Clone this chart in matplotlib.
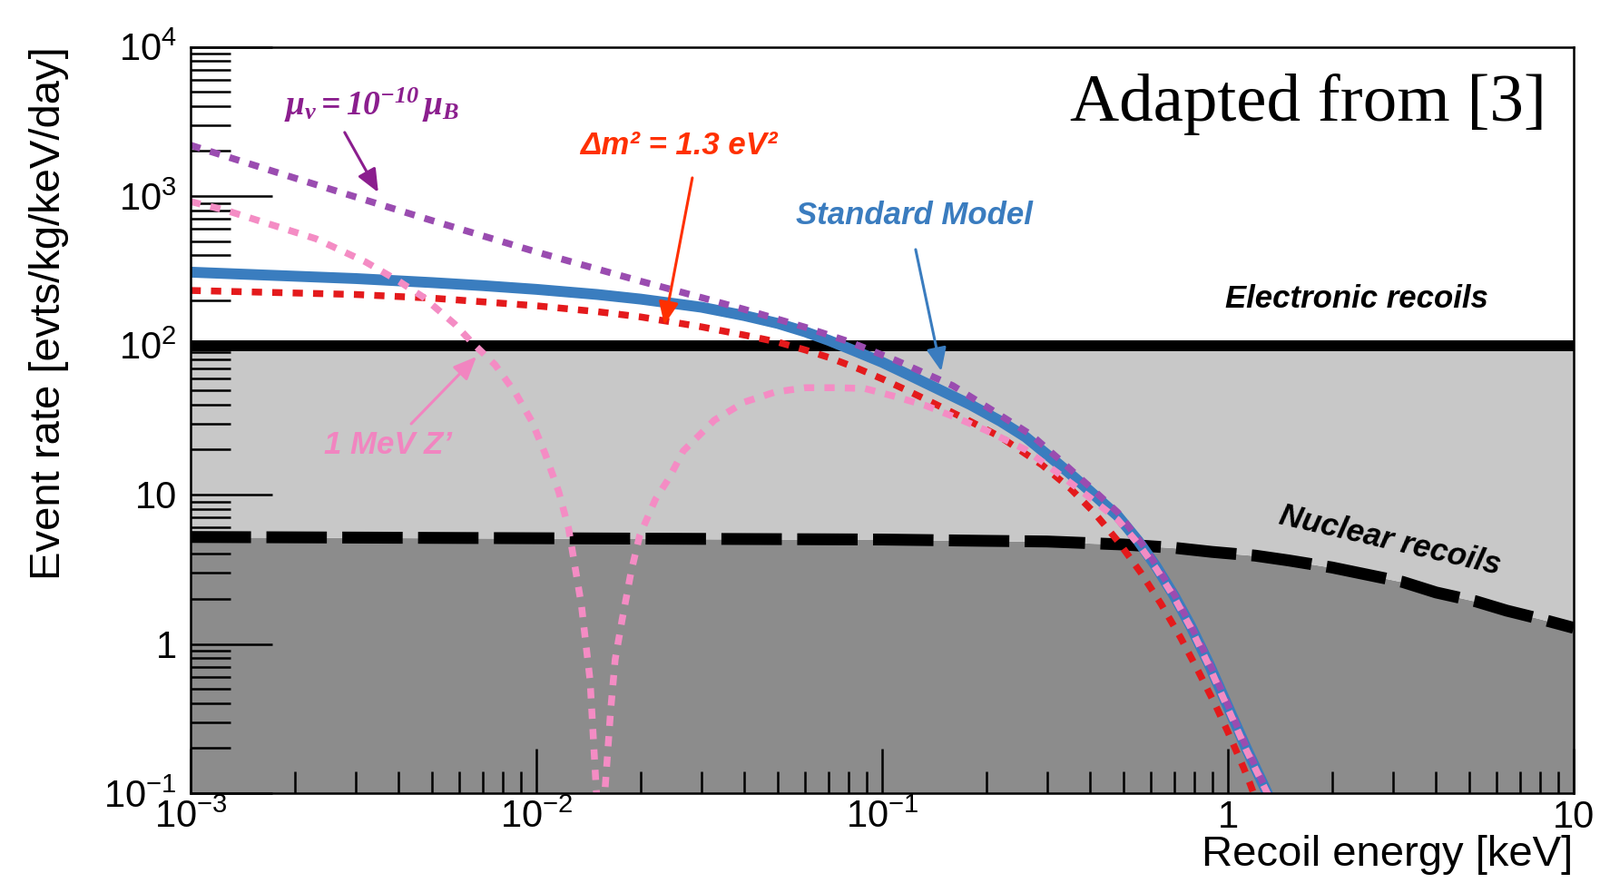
import matplotlib
matplotlib.use('Agg')
import matplotlib.pyplot as plt
from matplotlib.ticker import FixedLocator, FixedFormatter, NullFormatter

plt.rcParams['font.family'] = ['Liberation Sans', 'DejaVu Sans']
plt.rcParams['mathtext.fontset'] = 'custom'
plt.rcParams['mathtext.rm'] = 'Liberation Serif:italic:bold'
plt.rcParams['mathtext.it'] = 'Liberation Serif:italic:bold'
plt.rcParams['mathtext.bf'] = 'Liberation Serif:italic:bold'

# recoil energy [keV] / event rate [evts/kg/keV/day]
sm_energy = [0.001, 0.003, 0.005, 0.007, 0.01, 0.015, 0.02, 0.03, 0.04, 0.05, 0.06, 0.07,
             0.085, 0.1, 0.12, 0.14, 0.18, 0.22, 0.26, 0.32, 0.36, 0.4, 0.44, 0.48, 0.55,
             0.62, 0.7, 0.78, 0.88, 1.0, 1.13, 1.3, 1.35]
sm_rate = [309, 280, 263, 251, 237, 219, 204, 180, 158, 140, 123, 108,
           90, 77, 63, 53, 40, 31, 24.3, 16.4, 13.0, 10.5, 8.6, 7.2, 4.9,
           3.3, 2.09, 1.32, 0.74, 0.38, 0.20, 0.1, 0.075]

mu_energy = [0.001, 0.002, 0.003, 0.005, 0.01, 0.02, 0.03, 0.04, 0.06, 0.08, 0.11, 0.16,
             0.22, 0.27, 0.32, 0.4, 0.48, 0.58, 0.7, 0.85, 1.0, 1.13, 1.3, 1.35]
mu_rate = [2190, 1320, 986, 684, 422, 269, 209, 174, 132, 106, 79, 53.7,
           33.9, 25.1, 17.8, 11.2, 7.6, 4.3, 2.14, 0.91, 0.39, 0.204, 0.102, 0.078]

dm_energy = [0.001, 0.003, 0.005, 0.01, 0.015, 0.02, 0.03, 0.04, 0.05, 0.06, 0.07, 0.085,
             0.1, 0.12, 0.14, 0.18, 0.22, 0.29, 0.35, 0.41, 0.48, 0.56, 0.64, 0.73, 0.82,
             0.92, 1.0, 1.11, 1.16, 1.2]
dm_rate = [233, 219, 207, 184, 168, 155, 133, 117, 105, 93, 83, 70,
           59.6, 49, 41.2, 30.9, 24.3, 15.8, 11.0, 7.6, 4.9, 3.0, 1.86, 1.10, 0.66,
           0.39, 0.257, 0.148, 0.115, 0.093]

zp_energy = [0.001, 0.00127, 0.0017, 0.0023, 0.0032, 0.004, 0.0047, 0.0058, 0.0065,
             0.0076, 0.0087, 0.0097, 0.0106, 0.0116, 0.0124, 0.0135, 0.0143, 0.0149, 0.0153,
             0.0156, 0.0158, 0.0164, 0.0169, 0.0177, 0.0188, 0.0199, 0.0221, 0.0242,
             0.0266, 0.0295, 0.0327, 0.04, 0.049, 0.06, 0.073, 0.089, 0.109, 0.134,
             0.163, 0.2, 0.26, 0.32, 0.4, 0.48, 0.55, 0.62, 0.7, 0.78, 0.88, 1.0, 1.13,
             1.3, 1.35]
zp_rate = [918, 800, 646, 518, 363, 269, 211, 139, 105,
           74, 48, 31, 18.8, 10.5, 5.9, 1.82, 0.57, 0.106, 0.05,
           0.05, 0.106, 0.358, 0.785, 1.45, 3.05, 5.33, 9.3, 12.9,
           19.6, 24.8, 31.5, 41.7, 48.6, 52, 52, 51.4, 45.4, 39.4,
           32.9, 26.9, 20.0, 14.1, 9.5, 6.8, 4.7, 3.2, 2.04, 1.29, 0.72, 0.37, 0.195,
           0.1, 0.076]

nr_energy = [0.001, 0.01, 0.1, 0.2, 0.3, 0.5, 0.7, 0.9, 1.2, 1.5, 2.0, 2.4, 3.2, 4.0, 5.2,
             6.4, 8.0, 10.0]
nr_rate = [5.2, 5.1, 5.0, 4.9, 4.85, 4.63, 4.4, 4.13, 3.9, 3.62, 3.25, 2.98, 2.6, 2.21, 1.93,
           1.67, 1.47, 1.28]

er_level = 100

x_ticks = [1e-3, 1e-2, 1e-1, 1, 10]
x_tick_labels = [r'$\mathdefault{10^{-3}}$', r'$\mathdefault{10^{-2}}$', r'$\mathdefault{10^{-1}}$', '1', '10']
y_ticks = [1e-1, 1, 10, 1e2, 1e3, 1e4]
y_tick_labels = [r'$\mathdefault{10^{-1}}$', '1', '10', r'$\mathdefault{10^{2}}$',
                 r'$\mathdefault{10^{3}}$', r'$\mathdefault{10^{4}}$']


def minor_positions(lo, hi):
    out = []
    d = lo
    while d < hi:
        out += [k * d for k in range(2, 10)]
        d *= 10
    return out


fig = plt.figure(figsize=(17.63, 9.73), dpi=100)
ax = fig.add_axes([210 / 1763, 1 - 874 / 973, 1524 / 1763, 822.5 / 973])
ax.set_xscale('log')
ax.set_yscale('log')
ax.set_xlim(1e-3, 10)
ax.set_ylim(0.1, 1e4)

# shaded regions
ax.fill_between(nr_energy, 1e-3, nr_rate, color='#8c8c8c', lw=0, zorder=1)
ax.fill_between(nr_energy, nr_rate, er_level, color='#c8c8c8', lw=0, zorder=1)
ax.axhline(er_level, color='black', lw=8.6, zorder=2)
ax.plot(nr_energy, nr_rate, color='black', lw=9.4, dashes=(5.1, 1.3), zorder=3)

ax.plot(sm_energy, sm_rate, color='#3a7dbf', lw=8.6, solid_capstyle='butt',
        solid_joinstyle='round', zorder=4)
ax.plot(dm_energy, dm_rate, color='#e41a1c', lw=5.4, dashes=(1.5, 1.5), zorder=5)
ax.plot(mu_energy, mu_rate, color='#9a4cb0', lw=5.4, dashes=(1.5, 1.5), zorder=6)
ax.plot(zp_energy, zp_rate, color='#f48cc4', lw=5.4, dashes=(1.5, 1.5), zorder=7)

# axes / ticks, ROOT style
for s in ax.spines.values():
    s.set_linewidth(1.8)
    s.set_zorder(10)
ax.xaxis.set_major_locator(FixedLocator(x_ticks))
ax.xaxis.set_major_formatter(FixedFormatter(x_tick_labels))
ax.xaxis.set_minor_locator(FixedLocator(minor_positions(1e-3, 10)))
ax.xaxis.set_minor_formatter(NullFormatter())
ax.yaxis.set_major_locator(FixedLocator(y_ticks))
ax.yaxis.set_major_formatter(FixedFormatter(y_tick_labels))
ax.yaxis.set_minor_locator(FixedLocator(minor_positions(0.1, 1e4)))
ax.yaxis.set_minor_formatter(NullFormatter())
ax.tick_params(which='both', direction='in', top=False, right=False, width=1.8,
               labelsize=30, zorder=10)
ax.tick_params(axis='x', which='major', length=35, pad=5)
ax.tick_params(axis='x', which='minor', length=17)
ax.tick_params(axis='y', which='major', length=65, pad=11)
ax.tick_params(axis='y', which='minor', length=32)

fig.text(54 / 1763, 1 - 51 / 973, 'Event rate [evts/kg/keV/day]', rotation=90,
         ha='center', va='top', fontsize=34)
fig.text(1733 / 1763, 1 - 942 / 973, 'Recoil energy [keV]', ha='right', va='center',
         fontsize=34)

ax.text(0.98, 0.923, 'Adapted from [3]', transform=ax.transAxes, ha='right', va='center',
        fontsize=54, family='Liberation Serif')

bi = dict(fontweight='bold', style='italic', ha='center', va='center', fontsize=25)
ax.text(0.00335, 4055, r'$\mu_{\nu} = 10^{-10}\,\mu_B$', color='#8b1e8e',
        ha='center', va='center', fontsize=27)
ax.text(0.0258, 2188, 'Δm² = 1.3 eV²', color='#ff3000', **bi)
ax.text(0.124, 735, 'Standard Model', color='#3a7cbf', **bi)
ax.text(2.36, 205, 'Electronic recoils', color='black', **bi)
ax.text(2.95, 4.9, 'Nuclear recoils', color='black', rotation=-13, rotation_mode='anchor', **bi)
ax.text(0.00372, 21.3, '1 MeV Z’', color='#f185c0', **bi)


def arrow(tail, head, color):
    ax.annotate('', xy=head, xytext=tail,
                arrowprops=dict(arrowstyle='-|>,head_length=0.7,head_width=0.3',
                                color=color, lw=2.2, shrinkA=0, shrinkB=0,
                                mutation_scale=22), zorder=8)


arrow((0.00279, 2667), (0.00349, 1057), '#8b1e8e')
arrow((0.02825, 1324), (0.02344, 137), '#ff3000')
arrow((0.125, 438), (0.1483, 67.1), '#3a7cbf')
arrow((0.004345, 29.8), (0.00671, 84), '#f185c0')

fig.savefig('out.png', dpi=100)
